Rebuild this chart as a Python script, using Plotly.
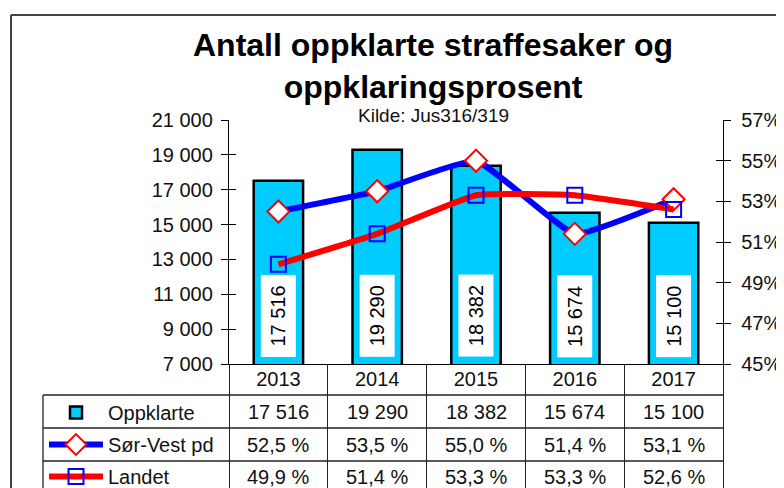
import plotly.graph_objects as go

# ---- data ----
years = ["2013", "2014", "2015", "2016", "2017"]
oppklarte = [17516, 19290, 18382, 15674, 15100]
sor_vest = [52.5, 53.5, 55.0, 51.4, 53.1]
landet = [49.9, 51.4, 53.3, 53.3, 52.6]
left_tickvals = [7000, 9000, 11000, 13000, 15000, 17000, 19000, 21000]
left_ticktext = ["7 000", "9 000", "11 000", "13 000", "15 000", "17 000", "19 000", "21 000"]
right_tickvals = [45, 47, 49, 51, 53, 55, 57]
right_ticktext = ["45%", "47%", "49%", "51%", "53%", "55%", "57%"]
series_names = ["Oppklarte", "Sør-Vest pd", "Landet"]

FONT = "Arial, 'Liberation Sans', sans-serif"
OFF = 8  # page body margin: the figure starts 8px in from the window corner
W, H = 784 - OFF, 488 - OFF
ML, MT = 229 - OFF, 120 - OFF
MR = W - (723 - OFF)
MB = H - (364 - OFF)
PW, PH = W - ML - MR, H - MT - MB


def px_x(X):
    return (X - OFF - ML) / PW


def px_y(Y):
    return (H - MB - (Y - OFF)) / PH


def fmt_int(v):
    return f"{v:,}".replace(",", " ")


def fmt_pct(v):
    return f"{v:.1f}".replace(".", ",") + " %"


fig = go.Figure()

fig.add_trace(go.Bar(
    x=years, y=oppklarte, name=series_names[0], width=0.5,
    marker=dict(color="#00CCFF", line=dict(color="black", width=2.5)),
    legendgroup="a", yaxis="y", hoverinfo="skip",
))
fig.add_trace(go.Scatter(
    x=years, y=sor_vest, name=series_names[1], yaxis="y2", mode="lines+markers",
    line=dict(color="#0000FF", width=6, shape="spline", smoothing=0.35),
    marker=dict(symbol="diamond", size=17, color="white", line=dict(color="#FF0000", width=2)),
    legendgroup="b",
))
fig.add_trace(go.Scatter(
    x=years, y=landet, name=series_names[2], yaxis="y2", mode="lines+markers",
    line=dict(color="#FF0000", width=6, shape="spline", smoothing=0.35),
    marker=dict(symbol="square-open", size=15, color="#0000FF", line=dict(color="#0000FF", width=2)),
    legendgroup="c",
))
# invisible helpers so the inner half of the crossing ticks is drawn
fig.add_trace(go.Scatter(x=years, y=oppklarte, yaxis="y3", mode="lines", opacity=0,
                         line=dict(width=0), showlegend=False, hoverinfo="skip"))
fig.add_trace(go.Scatter(x=years, y=sor_vest, yaxis="y4", mode="lines", opacity=0,
                         line=dict(width=0), showlegend=False, hoverinfo="skip"))

axis_font = dict(family=FONT, size=20, color="#111")

annotations = []
# bar value labels (white boxes, vertical text); category axis -> serial index
for i, v in enumerate(oppklarte):
    annotations.append(dict(
        x=i, y=9750, xref="x", yref="y", text=fmt_int(v), showarrow=False,
        textangle=-90, font=dict(family=FONT, size=20, color="black"),
        bgcolor="white", width=75, height=28, borderpad=3,
    ))
# table values
rows = [[fmt_int(v) for v in oppklarte], [fmt_pct(v) for v in sor_vest], [fmt_pct(v) for v in landet]]
row_centers = [411.5, 444.5, 476.5]
for r, yc in zip(rows, row_centers):
    for i, t in enumerate(r):
        annotations.append(dict(
            x=i, y=px_y(yc), xref="x", yref="paper", text=t, showarrow=False,
            font=dict(family=FONT, size=20, color="#111"), yanchor="middle",
        ))
# title + subtitle
annotations.append(dict(
    x=px_x(433), y=px_y(66), xref="paper", yref="paper", showarrow=False,
    text="<b>Antall oppklarte straffesaker og<br>oppklaringsprosent</b>",
    font=dict(family=FONT, size=32, color="black"), yanchor="middle", align="center",
))
annotations.append(dict(
    x=px_x(433), y=px_y(115), xref="paper", yref="paper", showarrow=False,
    text="Kilde: Jus316/319", font=dict(family=FONT, size=19, color="#111"),
    yanchor="middle",
))

line_style = dict(color="#222", width=1.3)
shapes = []
for Y in [395, 428, 461]:
    shapes.append(dict(type="line", xref="paper", yref="paper",
                       x0=px_x(43), x1=px_x(723), y0=px_y(Y), y1=px_y(Y), line=line_style))
shapes.append(dict(type="line", xref="paper", yref="paper",
                   x0=px_x(43), x1=px_x(43), y0=px_y(395), y1=px_y(495), line=line_style))
# outer frame
frame = dict(color="#444", width=2)
shapes.append(dict(type="line", xref="paper", yref="paper",
                   x0=px_x(11), x1=px_x(11), y0=px_y(15), y1=px_y(495), line=frame))
shapes.append(dict(type="line", xref="paper", yref="paper",
                   x0=px_x(11), x1=px_x(790), y0=px_y(15), y1=px_y(15), line=frame))

fig.update_layout(
    width=W, height=H,
    margin=dict(l=ML, r=MR, t=MT, b=MB, autoexpand=False),
    paper_bgcolor="white", plot_bgcolor="white",
    font=dict(family=FONT, size=20, color="#111"),
    showlegend=True,
    legend=dict(x=px_x(44), y=px_y(393), xanchor="left", yanchor="top",
                bgcolor="rgba(0,0,0,0)", font=dict(family=FONT, size=20, color="#111"),
                tracegroupgap=3, traceorder="grouped", itemwidth=54),
    xaxis=dict(
        type="category", categoryorder="array", categoryarray=years, range=[-0.5, 4.5],
        showgrid=False, zeroline=False, automargin=False,
        showline=True, linecolor="black", linewidth=1.3,
        ticks="outside", tickson="boundaries", ticklen=130, tickwidth=1.3, tickcolor="#222",
        ticklabelstandoff=-3, tickfont=axis_font, fixedrange=True,
    ),
    yaxis=dict(
        range=[7000, 21000], tickvals=left_tickvals, ticktext=left_ticktext, automargin=False,
        showgrid=False, zeroline=False, showline=True, linecolor="black", linewidth=1.3,
        ticks="outside", ticklen=7, tickwidth=1.3, tickcolor="black", tickfont=axis_font,
        ticklabelstandoff=4,
    ),
    yaxis2=dict(
        range=[45, 57], tickvals=right_tickvals, ticktext=right_ticktext, automargin=False,
        overlaying="y", side="right", showgrid=False, zeroline=False,
        showline=True, linecolor="black", linewidth=1.3,
        ticks="outside", ticklen=7, tickwidth=1.3, tickcolor="black", tickfont=axis_font,
        ticklabelstandoff=6,
    ),
    yaxis3=dict(
        range=[7000, 21000], tickvals=left_tickvals, overlaying="y", side="left", automargin=False,
        showticklabels=False, showgrid=False, zeroline=False, showline=False,
        ticks="inside", ticklen=7, tickwidth=1.3, tickcolor="black",
    ),
    yaxis4=dict(
        range=[45, 57], tickvals=right_tickvals, overlaying="y", side="right", automargin=False,
        showticklabels=False, showgrid=False, zeroline=False, showline=False,
        ticks="inside", ticklen=7, tickwidth=1.3, tickcolor="black",
    ),
    annotations=annotations,
    shapes=shapes,
    bargap=0.5,
)

fig.write_html("out.html")
